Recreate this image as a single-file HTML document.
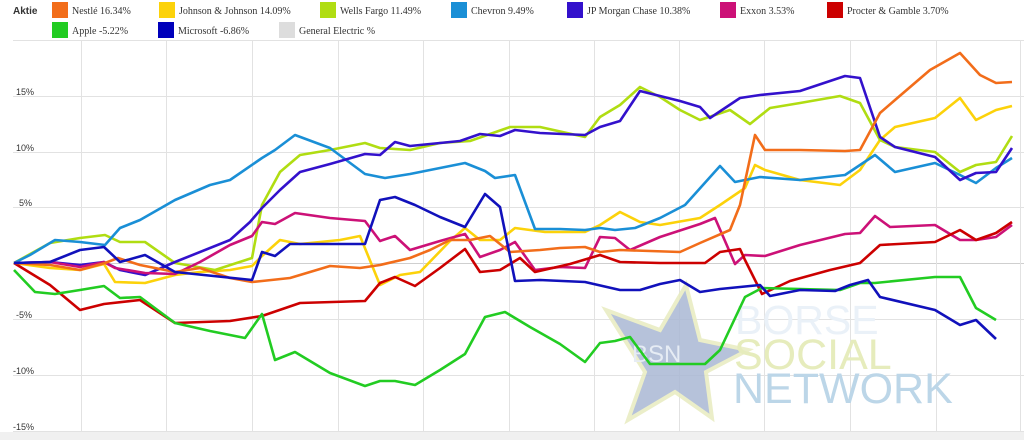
<!DOCTYPE html>
<html><head><meta charset="utf-8"><style>
html,body{margin:0;padding:0;background:#fff;width:1024px;height:440px;overflow:hidden}
svg{display:block}
text{font-family:"Liberation Serif",serif;font-size:10px;fill:#333}
</style></head><body>
<svg width="1024" height="440" viewBox="0 0 1024 440">
<text x="13" y="14" style="font-weight:bold;font-family:'Liberation Sans',sans-serif;font-size:10px">Aktie</text>
<g>
<rect x="52" y="2" width="16" height="16" fill="#f26d1a"/><text x="72" y="14">Nestlé  16.34%</text>
<rect x="159" y="2" width="16" height="16" fill="#fcd20a"/><text x="179" y="14">Johnson &amp; Johnson  14.09%</text>
<rect x="320" y="2" width="16" height="16" fill="#b0dd12"/><text x="340" y="14">Wells Fargo  11.49%</text>
<rect x="451" y="2" width="16" height="16" fill="#1a8fd6"/><text x="471" y="14">Chevron  9.49%</text>
<rect x="567" y="2" width="16" height="16" fill="#3311cc"/><text x="587" y="14">JP Morgan Chase  10.38%</text>
<rect x="720" y="2" width="16" height="16" fill="#cc1177"/><text x="740" y="14">Exxon  3.53%</text>
<rect x="827" y="2" width="16" height="16" fill="#cc0000"/><text x="847" y="14">Procter &amp; Gamble  3.70%</text>
<rect x="52" y="22" width="16" height="16" fill="#22cc22"/><text x="72" y="34">Apple  -5.22%</text>
<rect x="158" y="22" width="16" height="16" fill="#0000bb"/><text x="178" y="34">Microsoft  -6.86%</text>
<rect x="279" y="22" width="16" height="16" fill="#dddddd"/><text x="299" y="34">General Electric  %</text>
</g>
<g stroke="#e2e2e2" stroke-width="1">
<line x1="13" y1="40.5" x2="1024" y2="40.5"/>
<line x1="13" y1="96.5" x2="1024" y2="96.5"/>
<line x1="13" y1="152.5" x2="1024" y2="152.5"/>
<line x1="13" y1="207.5" x2="1024" y2="207.5"/>
<line x1="13" y1="263.5" x2="1024" y2="263.5" stroke="#cfcfcf"/>
<line x1="13" y1="319.5" x2="1024" y2="319.5"/>
<line x1="13" y1="375.5" x2="1024" y2="375.5"/>
<line x1="13" y1="431.5" x2="1024" y2="431.5"/>
<line x1="81.5" y1="40" x2="81.5" y2="431"/><line x1="166.5" y1="40" x2="166.5" y2="431"/>
<line x1="252.5" y1="40" x2="252.5" y2="431"/><line x1="338.5" y1="40" x2="338.5" y2="431"/>
<line x1="423.5" y1="40" x2="423.5" y2="431"/><line x1="509.5" y1="40" x2="509.5" y2="431"/>
<line x1="594.5" y1="40" x2="594.5" y2="431"/><line x1="679.5" y1="40" x2="679.5" y2="431"/>
<line x1="764.5" y1="40" x2="764.5" y2="431"/><line x1="850.5" y1="40" x2="850.5" y2="431"/>
<line x1="936.5" y1="40" x2="936.5" y2="431"/><line x1="1020.5" y1="40" x2="1020.5" y2="431"/>
</g>
<rect x="0" y="432" width="1024" height="8" fill="#f0f0f0"/>
<g>
<text x="16" y="95" style="font-family:'Liberation Sans',sans-serif;font-size:9px">15%</text>
<text x="16" y="151" style="font-family:'Liberation Sans',sans-serif;font-size:9px">10%</text>
<text x="19" y="206" style="font-family:'Liberation Sans',sans-serif;font-size:9px">5%</text>
<text x="16" y="318" style="font-family:'Liberation Sans',sans-serif;font-size:9px">-5%</text>
<text x="13" y="374" style="font-family:'Liberation Sans',sans-serif;font-size:9px">-10%</text>
<text x="13" y="430" style="font-family:'Liberation Sans',sans-serif;font-size:9px">-15%</text>
</g>
<!-- watermark -->
<polygon points="686,285 700,340 748,350 706,372 712,418 675,392 628,420 645,372 606,310 660,330" fill="#aab8d4" stroke="#e8ecc0" stroke-width="4" opacity="0.85"/>
<text x="632" y="362" style="font-family:'Liberation Sans',sans-serif;font-size:24px;fill:#e6ecf4">BSN</text>
<text x="735" y="334" style="font-family:'Liberation Sans',sans-serif;font-size:41px;fill:#eaf1f8">BORSE</text>
<text x="734" y="369" style="font-family:'Liberation Sans',sans-serif;font-size:43px;fill:#e6ecbc">SOCIAL</text>
<text x="733" y="403" style="font-family:'Liberation Sans',sans-serif;font-size:43px;fill:#bcd6e8">NETWORK</text>
<g fill="none" stroke-width="2.6" stroke-linejoin="round">
<polyline stroke="#fcd20a" points="14,263 50,268 80,270 104,264 115,282 145,283 175,275 200,272 230,270 252,266 262,256 280,240 300,244 340,240 360,236 380,285 400,275 420,272 450,241 465,228 480,240 500,240 515,228 545,232 585,232 600,225 620,212 640,222 660,225 700,218 720,205 745,188 755,165 765,170 800,180 840,185 860,170 880,140 895,127 935,118 960,98 976,120 996,110 1012,106"/>
<polyline stroke="#b0dd12" points="14,263 50,243 80,238 105,235 120,242 145,242 175,263 215,270 252,258 262,205 280,172 300,155 330,150 365,143 380,148 410,150 440,143 470,141 490,134 510,127 540,127 585,137 600,117 620,105 640,87 660,97 680,110 700,120 730,110 750,124 770,108 800,103 840,96 860,103 880,140 895,147 935,152 960,172 976,165 996,162 1012,136"/>
<polyline stroke="#1a8fd6" points="14,263 30,255 55,240 80,242 105,245 120,228 140,220 175,200 210,185 230,180 262,158 275,150 295,135 330,148 365,174 385,178 410,174 440,168 465,163 485,171 495,178 515,175 535,229 560,229 585,230 600,228 615,230 635,228 660,218 685,205 720,166 735,182 760,177 800,180 845,175 860,165 875,155 895,172 935,163 960,175 976,183 996,168 1012,158"/>
<polyline stroke="#3311cc" points="14,263 50,262 80,265 104,262 120,270 145,275 175,262 230,240 250,222 262,208 280,190 300,172 330,164 365,154 380,155 395,142 410,146 440,143 460,141 480,134 500,136 515,130 540,133 585,135 600,127 620,121 640,91 660,96 680,101 700,107 710,118 740,98 760,95 800,91 845,76 860,78 880,137 895,147 935,157 960,180 976,173 996,172 1012,148"/>
<polyline stroke="#cc1177" points="14,263 50,262 80,267 104,262 115,268 145,273 175,274 200,262 230,245 252,236 262,222 275,224 295,213 330,218 365,221 380,241 395,236 410,250 440,241 465,234 480,257 500,250 515,242 535,270 560,267 585,268 600,237 615,238 630,250 660,237 700,224 715,218 735,264 745,255 765,256 800,245 845,234 860,233 875,216 890,227 935,225 960,240 976,240 996,237 1012,225"/>
<polyline stroke="#cc0000" points="14,263 50,285 80,310 104,304 140,300 175,323 230,321 262,316 300,303 365,301 380,283 395,277 415,286 440,268 465,249 480,272 500,270 520,258 535,272 570,264 600,255 620,262 660,263 705,263 720,252 740,249 745,260 762,294 790,281 830,270 860,263 880,245 935,242 960,230 976,240 996,233 1012,222"/>
<polyline stroke="#f26d1a" points="14,263 50,265 80,270 105,263 118,258 140,265 175,272 200,268 230,278 252,282 262,281 290,278 330,266 360,268 380,265 410,258 430,250 450,240 470,240 490,236 510,252 540,250 560,248 585,247 600,252 620,250 650,251 680,252 700,243 730,230 740,205 755,135 765,150 800,150 845,151 860,150 880,113 895,100 930,70 960,53 980,75 996,83 1012,82"/>
<polyline stroke="#22cc22" points="14,270 35,292 55,294 80,290 104,286 120,298 140,297 175,323 210,331 245,338 262,314 275,360 295,352 330,373 365,386 380,381 395,381 415,385 440,370 465,354 485,317 505,312 530,327 560,344 585,362 600,343 615,341 630,337 650,364 705,364 720,350 745,297 762,288 800,289 840,290 860,283 875,283 935,277 960,277 976,308 996,320"/>
<polyline stroke="#1111bb" points="14,263 50,262 80,250 104,247 120,262 145,255 175,272 252,280 262,252 275,256 290,244 330,244 365,244 380,200 395,197 415,205 440,217 465,227 485,194 500,207 515,281 540,280 585,282 620,290 640,290 660,284 680,280 700,292 720,289 760,285 770,296 800,290 835,291 850,285 868,280 880,297 935,310 960,325 976,320 996,339"/>
</g>
</svg>
</body></html>
